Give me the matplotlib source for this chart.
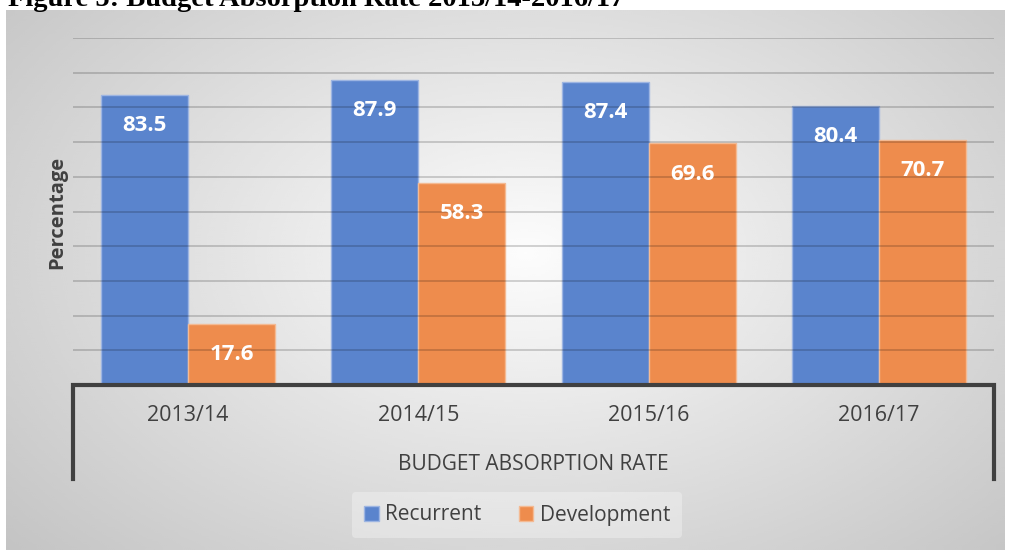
''' Budget absorption rate, recurrent vs development '''

import numpy as np
import matplotlib
matplotlib.use('Agg')
import matplotlib.pyplot as plt

YEARS = ['2013/14', '2014/15', '2015/16', '2016/17']
RECURRENT = [83.5, 87.9, 87.4, 80.4]
DEVELOPMENT = [17.6, 58.3, 69.6, 70.7]
SERIES = ['Recurrent', 'Development']
COLORS = ['#5A84CD', '#EE8C4D']

W, H = 1011, 550
TEXT = '#404040'

plt.rcParams['font.family'] = ['Open Sans', 'DejaVu Sans']

fig = plt.figure(figsize=(W / 100, H / 100), dpi=100)

# gray radial gradient behind the chart
bg = fig.add_axes([6 / W, 0, 999 / W, 540 / H], zorder=-10)
yy, xx = np.mgrid[0:1:300j, 0:1:500j]
r = np.sqrt(((xx - 0.52) / 0.72) ** 2 + ((yy - 0.45) / 0.85) ** 2)
r = np.clip(r, 0, 1)
shade = 0.99 - 0.23 * r
bg.imshow(shade, cmap='gray', vmin=0, vmax=1, aspect='auto',
          extent=[0, 1, 0, 1], interpolation='bicubic')
bg.axis('off')

ax = fig.add_axes([73 / W, (H - 385) / H, (994 - 73) / W, (385 - 38) / H])
ax.patch.set_alpha(0)

x = np.arange(len(YEARS))
w = 0.378
b1 = ax.bar(x - w / 2, RECURRENT, w, color=COLORS[0], edgecolor='#9DB5E2',
            linewidth=1, label=SERIES[0], zorder=2)
b2 = ax.bar(x + w / 2, DEVELOPMENT, w, color=COLORS[1], edgecolor='#F4BA93',
            linewidth=1, label=SERIES[1], zorder=2)

for bars in (b1, b2):
    for rect in bars:
        ax.annotate('%.1f' % rect.get_height(),
                    (rect.get_x() + rect.get_width() / 2, rect.get_height()),
                    xytext=(0, -22), textcoords='offset points',
                    ha='center', va='center', color='white',
                    fontsize=16, fontweight='bold', zorder=4)

# gridlines drawn over the bars, faintly
for v in range(10, 101, 10):
    ax.axhline(v, color='k', alpha=0.18, linewidth=1.3, zorder=3)

ax.set_xlim(-0.5, len(YEARS) - 0.5)
ax.set_ylim(0, 100)
ax.set_xticks([])
ax.set_yticks([])
for s in ax.spines.values():
    s.set_visible(False)

# multi-level category axis box
ax.plot([-0.5, -0.5, 3.5, 3.5], [-27, 0, 0, -27], color='#404040',
        linewidth=3, clip_on=False, solid_joinstyle='miter', zorder=5)
for i, yr in enumerate(YEARS):
    ax.text(i, -8.8, yr, ha='center', va='center', color=TEXT, fontsize=15.5)
ax.text(1.5, -22.8, 'BUDGET ABSORPTION RATE', ha='center', va='center',
        color=TEXT, fontsize=15)

fig.text(57 / W, 1 - 212 / H, 'Percentage', rotation=90, ha='center',
         va='center', color=TEXT, fontsize=14.5, fontweight='bold')

leg = fig.legend(handles=[b1, b2], loc='center', bbox_to_anchor=(517 / W, 1 - 515 / H),
                 ncol=2, frameon=True, fontsize=15, handlelength=0.7,
                 handleheight=0.7, handletextpad=0.3, columnspacing=1.8,
                 borderpad=0.6)
leg.get_frame().set_facecolor('white')
leg.get_frame().set_alpha(0.3)
leg.get_frame().set_linewidth(0)
for t in leg.get_texts():
    t.set_color(TEXT)

fig.text(8 / W, 1 - 6 / H, 'Figure 5: Budget Absorption Rate 2013/14-2016/17',
         family='Liberation Serif', fontweight='bold', fontsize=20.5,
         va='baseline', ha='left')

fig.savefig('out.png', dpi=100)
